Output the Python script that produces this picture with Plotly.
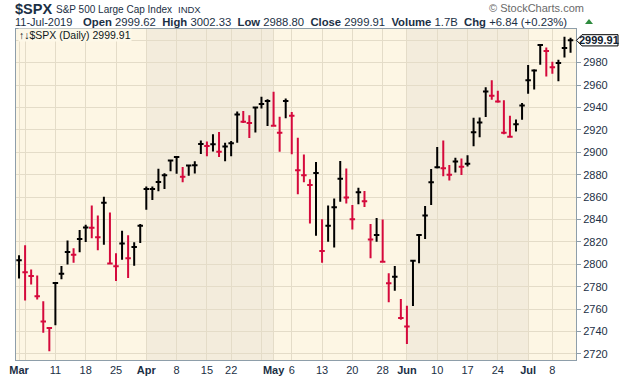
import plotly.graph_objects as go

# ---------------- data ----------------
dates = ["Mar 1","Mar 4","Mar 5","Mar 6","Mar 7","Mar 8","Mar 11","Mar 12","Mar 13","Mar 14","Mar 15",
         "Mar 18","Mar 19","Mar 20","Mar 21","Mar 22","Mar 25","Mar 26","Mar 27","Mar 28","Mar 29",
         "Apr 1","Apr 2","Apr 3","Apr 4","Apr 5","Apr 8","Apr 9","Apr 10","Apr 11","Apr 12",
         "Apr 15","Apr 16","Apr 17","Apr 18","Apr 22","Apr 23","Apr 24","Apr 25","Apr 26",
         "Apr 29","Apr 30","May 1","May 2","May 3","May 6","May 7","May 8","May 9","May 10",
         "May 13","May 14","May 15","May 16","May 17","May 20","May 21","May 22","May 23","May 24",
         "May 28","May 29","May 30","May 31","Jun 3","Jun 4","Jun 5","Jun 6","Jun 7",
         "Jun 10","Jun 11","Jun 12","Jun 13","Jun 14","Jun 17","Jun 18","Jun 19","Jun 20","Jun 21",
         "Jun 24","Jun 25","Jun 26","Jun 27","Jun 28","Jul 1","Jul 2","Jul 3","Jul 5",
         "Jul 8","Jul 9","Jul 10","Jul 11"]

highs = [2808.0,2816.9,2795.4,2790.0,2767.0,2744.1,2784.0,2798.6,2821.2,2814.3,2830.7,
         2835.3,2852.4,2843.5,2860.3,2846.2,2809.8,2829.9,2826.0,2819.7,2836.0,
         2869.4,2869.4,2885.3,2881.3,2893.2,2896.0,2886.9,2889.1,2891.9,2910.5,
         2909.6,2916.1,2918.0,2908.4,2910.0,2936.3,2936.8,2933.1,2939.9,
         2949.5,2947.2,2954.1,2931.7,2947.9,2936.0,2913.0,2898.0,2876.0,2891.3,
         2840.2,2852.5,2858.7,2892.2,2885.5,2853.0,2868.3,2865.5,2836.0,2841.4,
         2840.0,2792.0,2798.5,2769.0,2763.1,2803.3,2826.2,2852.1,2885.0,
         2904.8,2910.6,2888.6,2895.2,2894.5,2897.3,2930.8,2931.0,2958.1,2964.2,
         2954.9,2946.5,2932.6,2929.3,2944.0,2977.9,2974.0,2996.5,2993.4,
         2980.8,2982.5,3003.0,3002.3]

lows  = [2787.4,2767.7,2782.0,2768.7,2739.0,2722.3,2745.7,2786.7,2799.8,2801.5,2810.8,
         2820.0,2823.3,2812.5,2817.4,2800.5,2785.0,2804.0,2787.7,2798.8,2819.0,
         2848.6,2857.5,2865.2,2867.1,2883.0,2880.8,2873.3,2879.1,2881.0,2898.4,
         2896.5,2900.7,2895.7,2891.9,2896.5,2908.5,2926.1,2912.8,2917.6,
         2939.0,2923.5,2923.4,2900.5,2930.4,2898.3,2862.6,2873.3,2836.4,2825.4,
         2801.4,2820.1,2815.1,2855.9,2854.2,2831.1,2853.5,2851.1,2805.5,2820.2,
         2801.6,2766.1,2776.4,2750.5,2728.8,2762.7,2800.9,2822.5,2852.9,
         2885.5,2878.5,2874.7,2882.0,2879.6,2887.3,2905.4,2913.5,2931.5,2946.9,
         2944.1,2916.0,2913.0,2918.6,2929.1,2952.2,2955.9,2978.0,2967.5,
         2970.1,2963.4,2984.6,2988.8]

closes = [2803.69,2792.81,2789.65,2771.45,2748.93,2743.07,2783.30,2791.52,2810.92,2808.48,2822.48,
          2832.94,2832.57,2824.23,2854.88,2800.71,2798.36,2818.46,2805.37,2815.44,2834.40,
          2867.19,2867.24,2873.40,2879.39,2892.74,2895.77,2878.20,2888.21,2888.32,2907.41,
          2905.58,2907.06,2900.45,2905.03,2907.97,2933.68,2927.25,2926.17,2939.88,
          2943.03,2945.83,2923.73,2917.52,2945.64,2932.47,2884.05,2879.42,2870.72,2881.40,
          2811.87,2834.41,2850.96,2876.32,2859.53,2840.23,2864.36,2856.27,2822.24,2826.06,
          2802.39,2783.02,2788.86,2752.06,2744.45,2803.27,2826.15,2843.49,2873.34,
          2886.73,2885.72,2879.84,2891.64,2886.98,2889.67,2917.75,2926.46,2954.18,2950.46,
          2945.35,2917.38,2913.78,2924.92,2941.76,2964.33,2973.01,2995.82,2990.41,
          2975.95,2979.63,2993.07,2999.91]

# x-axis ticks (trading-day index) and labels
tick_idx    = [0, 1, 6, 11, 16, 21, 26, 31, 35, 40, 42, 45, 50, 55, 60, 64, 69, 74, 79, 84, 88]
tick_labels = ["<b>Mar</b>", "", "11", "18", "25", "<b>Apr</b>", "8", "15", "22", "",
               "<b>May</b>", "6", "13", "20", "28", "<b>Jun</b>", "10", "17", "24", "<b>Jul</b>", "8"]
# shaded months (start index, end index)
shaded = [(21, 42), (64, 84)]

y_ticks = list(range(2720, 3001, 20))

header_open, header_high, header_low = "2999.62", "3002.33", "2988.80"
header_vol, header_chg = "1.7B", "+6.84 (+0.23%)"

# ---------------- figure ----------------
W, H = 620, 376
L, R, T, B = 16, 44, 29, 16
X0, X1 = -0.5, 91.9
Y0, Y1 = 2714.6, 3010.0

BLACK = "#000000"
RED = "#D5093C"
TXT = "#1B2F45"
GRID = "#E4DCC8"
FONT = "Liberation Sans, Arial, sans-serif"

x = list(range(len(closes)))
up_x, dn_x = [], []
for i in x:
    if i == 0 or closes[i] >= closes[i - 1]:
        up_x.append(i)
    else:
        dn_x.append(i)

def ohlc_trace(idx, color):
    return go.Ohlc(
        x=idx,
        open=[closes[i] for i in idx],
        high=[highs[i] for i in idx],
        low=[lows[i] for i in idx],
        close=[closes[i] for i in idx],
        increasing=dict(line=dict(color=color, width=2)),
        decreasing=dict(line=dict(color=color, width=2)),
        tickwidth=0.45,
        hoverinfo="skip",
        showlegend=False,
    )

fig = go.Figure([ohlc_trace(up_x, BLACK), ohlc_trace(dn_x, RED)])

shapes = []
for s, e in shaded:
    shapes.append(dict(type="rect", xref="x", yref="paper", x0=s, x1=e, y0=0, y1=1,
                       fillcolor="#F3ECDC", line=dict(width=0), layer="below"))

pw = W - L - R
ph = H - T - B
def pxp(px):
    return (px - L) / pw
def pyp(py):
    return (H - B - py) / ph

# price label box at the right
last = closes[-1]
hh = 5.0
path = (f"M {pxp(576.5)},{last} L {pxp(582)},{last + hh} L {pxp(618)},{last + hh} "
        f"L {pxp(618)},{last - hh} L {pxp(582)},{last - hh} Z")
shapes.append(dict(type="path", xref="paper", yref="y", path=path,
                   fillcolor="#FFFFFF", line=dict(color="#000000", width=1), layer="above"))

# green "up" triangle after the change value
tri = (f"M {pxp(585)},{pyp(24)} L {pxp(593)},{pyp(24)} L {pxp(589)},{pyp(19)} Z")
shapes.append(dict(type="path", xref="paper", yref="paper", path=tri,
                   fillcolor="#2E8B3E", line=dict(width=0), layer="above"))

ann = []
def add(text, px, py, size, color=TXT, anchor="left", bold=False, bg=None):
    ann.append(dict(text=f"<b>{text}</b>" if bold else text, x=pxp(px), y=pyp(py),
                    xref="paper", yref="paper", xanchor=anchor, yanchor="middle",
                    showarrow=False, font=dict(size=size, color=color, family=FONT),
                    bgcolor=bg, borderpad=0))

add("$SPX", 14, 9, 14.5, bold=True)
add("S&P 500 Large Cap Index", 55, 9, 10)
add("INDX", 177, 9, 9.5)
add("© StockCharts.com", 585, 8, 11, color="#6A6A6A", anchor="right")
add("11-Jul-2019", 14, 22, 11)
add(f"<b>Open</b> {header_open}  <b>High</b> {header_high}  <b>Low</b> {header_low}  "
    f"<b>Close</b> {last:.2f}  <b>Volume</b> {header_vol}  <b>Chg</b> {header_chg}",
    568, 22, 11.3, anchor="right")
add(f"↑↓$SPX (Daily) {last:.2f}", 18, 35, 10.5, color="#101820", bg="#FDF8E8")
ann.append(dict(text=f"<b>{last:.2f}</b>", x=pxp(599), y=last, xref="paper", yref="y",
                xanchor="center", yanchor="middle", showarrow=False,
                font=dict(size=11, color="#10202E", family=FONT)))

fig.update_layout(
    template="none",
    width=W, height=H,
    margin=dict(l=L, r=R, t=T, b=B, pad=0, autoexpand=False),
    paper_bgcolor="#FFFFFF",
    plot_bgcolor="#FDF6E4",
    shapes=shapes,
    annotations=ann,
    font=dict(family=FONT, size=11, color=TXT),
    xaxis=dict(
        range=[X0, X1], rangeslider=dict(visible=False), automargin=False,
        tickmode="array", tickvals=tick_idx, ticktext=tick_labels,
        showgrid=True, gridcolor=GRID, gridwidth=1,
        showline=True, linecolor="#8E9EAA", linewidth=1, mirror=True,
        ticks="", tickfont=dict(size=11, color=TXT),
        zeroline=False, fixedrange=True,
    ),
    yaxis=dict(
        range=[Y0, Y1], side="right", automargin=False,
        tickmode="array", tickvals=y_ticks,
        ticktext=[str(v) if v < 3000 else "" for v in y_ticks],
        showgrid=True, gridcolor=GRID, gridwidth=1,
        showline=True, linecolor="#8E9EAA", linewidth=1, mirror=True,
        ticks="outside", ticklen=4, tickcolor="#8E9EAA",
        tickfont=dict(size=11, color=TXT),
        zeroline=False, fixedrange=True,
    ),
)

fig.write_html("out.html", config={"displayModeBar": False},
               post_script="document.body.style.margin='0';document.body.style.padding='0';")
